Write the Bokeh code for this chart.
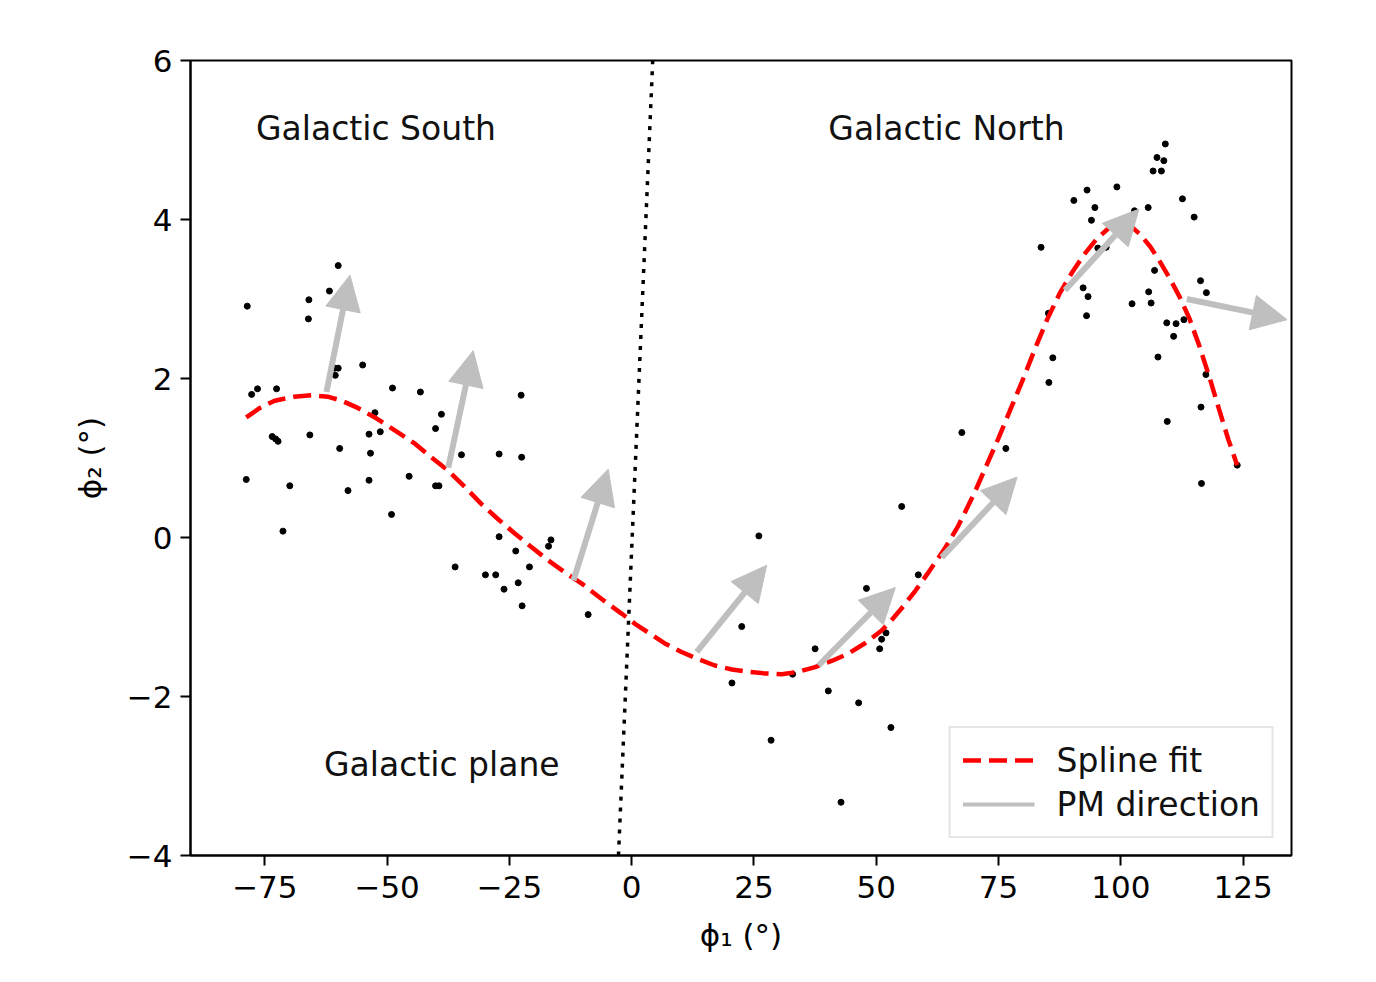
from bokeh.plotting import figure
from bokeh.models import (Arrow, NormalHead, Legend, LegendItem, Range1d,
                          FixedTicker, ColumnDataSource)
from bokeh.embed import file_html
from bokeh.resources import INLINE
from bokeh.core.properties import value

# ---------------- data ----------------
star_phi1 = [-78.6, -60.0, -61.8, -66.0, -66.1, -60.7, -60.0, -60.6, -55.0, -76.5,
             -77.7, -72.6, -48.9, -43.2, -22.6, -52.5, -38.9, -40.1, -73.5, -72.8,
             -72.3, -65.8, -53.7, -51.4, -59.7, -53.4, -34.8, -27.1, -22.5, -78.8,
             -69.9, -53.7, -45.5, -40.1, -39.4, -58.0, -49.1, -71.3, -27.1, -16.5,
             -17.0, -23.7, -36.1, -20.9, -29.9, -27.8, -23.2, -26.1, -22.4, -8.9,
             26.0, 55.2, 58.6, 48.0, 22.5, 37.5, 52.0, 51.1, 50.7, 32.9,
             20.5, 40.2, 46.4, 53.0, 28.5, 42.8,
             67.5, 76.5, 109.1, 107.4, 108.8, 106.6, 108.3, 93.1, 99.2, 90.4,
             94.7, 112.6, 102.8, 105.6, 94.0, 115.0, 83.7, 95.3, 97.0, 106.9,
             116.3, 117.5, 92.3, 93.3, 105.7, 106.2, 102.3, 85.2, 93.0, 109.4,
             111.3, 112.9, 110.8, 86.1, 107.6, 117.4, 85.3, 116.4, 109.5, 123.8,
             116.5]
star_phi2 = [2.91, 3.42, 3.10, 2.99, 2.75, 2.13, 2.13, 2.04, 2.17, 1.87,
             1.80, 1.87, 1.88, 1.83, 1.79, 1.57, 1.55, 1.37, 1.27, 1.24,
             1.21, 1.29, 1.30, 1.33, 1.12, 1.06, 1.04, 1.05, 1.01, 0.73,
             0.65, 0.72, 0.77, 0.65, 0.65, 0.59, 0.29, 0.08, 0.01, -0.03,
             -0.11, -0.17, -0.37, -0.37, -0.47, -0.47, -0.57, -0.65, -0.86, -0.97,
             0.02, 0.39, -0.47, -0.64, -1.12, -1.40, -1.20, -1.28, -1.40, -1.72,
             -1.83, -1.93, -2.08, -2.39, -2.55, -3.33,
             1.32, 1.12, 4.95, 4.78, 4.74, 4.61, 4.61, 4.37, 4.41, 4.24,
             4.15, 4.26, 4.11, 4.15, 3.99, 4.03, 3.65, 3.64, 3.65, 3.36,
             3.23, 3.08, 3.14, 3.03, 3.09, 2.95, 2.94, 2.82, 2.79, 2.70,
             2.69, 2.74, 2.53, 2.26, 2.27, 2.05, 1.95, 1.64, 1.46, 0.91,
             0.68]

spline_phi1 = [-78.8, -76.0, -73.0, -69.0, -65.5, -62.0, -59.3, -56.0, -52.5, -48.5,
               -44.3, -41.0, -37.5, -34.0, -30.7, -27.3, -23.9, -20.5, -17.0, -13.6,
               -10.2, -6.0, -2.0, 1.0, 4.0, 7.0, 10.2, 13.6, 17.0, 20.5,
               23.9, 27.3, 30.7, 34.0, 37.5, 41.0, 44.3, 47.7, 51.1, 53.0,
               55.2, 58.0, 61.0, 64.0, 66.8, 70.0, 72.5, 75.0, 77.5, 80.0,
               82.5, 85.0, 87.5, 90.0, 92.5, 95.0, 97.5, 100.0, 102.0, 104.0,
               106.0, 108.0, 110.0, 112.0, 114.0, 116.0, 118.0, 120.0, 122.0, 123.8]
spline_phi2 = [1.51, 1.63, 1.72, 1.77, 1.79, 1.77, 1.72, 1.63, 1.51, 1.35,
               1.18, 1.01, 0.84, 0.63, 0.42, 0.23, 0.05, -0.12, -0.29, -0.44,
               -0.58, -0.78, -0.96, -1.10, -1.22, -1.34, -1.44, -1.53, -1.61, -1.66,
               -1.69, -1.71, -1.72, -1.69, -1.63, -1.55, -1.46, -1.33, -1.17, -1.05,
               -0.89, -0.67, -0.41, -0.14, 0.15, 0.55, 0.90, 1.25, 1.62, 1.99,
               2.38, 2.75, 3.07, 3.33, 3.56, 3.75, 3.89, 3.95, 3.92, 3.81,
               3.66, 3.47, 3.26, 3.03, 2.76, 2.42, 2.04, 1.63, 1.23, 0.91]

pm_start_phi1 = [-62.4, -37.5, -11.9, 13.3, 38.2, 63.4, 88.6, 113.5]
pm_start_phi2 = [1.83, 0.88, -0.54, -1.44, -1.61, -0.25, 3.11, 3.00]
pm_end_phi1 = [-57.6, -32.4, -4.8, 27.6, 53.9, 78.8, 103.7, 134.0]
pm_end_phi2 = [3.30, 2.35, 0.86, -0.35, -0.63, 0.76, 4.13, 2.74]

plane_phi1 = [-2.7, 4.3]
plane_phi2 = [-4.0, 6.0]

x_ticks = [-75, -50, -25, 0, 25, 50, 75, 100, 125]
y_ticks = [-4, -2, 0, 2, 4, 6]

region_labels = ["Galactic South", "Galactic North", "Galactic plane"]
region_phi1 = [-76.8, 40.2, -62.9]
region_phi2 = [5.14, 5.14, -2.86]

FONT = "DejaVu Sans"
GREY = "#bfbfbf"
NAN = float("nan")

# ---------------- figure ----------------
p = figure(width=1376, height=982,
           x_range=Range1d(-90.2, 134.9), y_range=Range1d(-4, 6),
           output_backend="svg", toolbar_location=None,
           min_border_left=190, min_border_right=85,
           min_border_top=60, min_border_bottom=127,
           background_fill_color="white", border_fill_color="white")
p.grid.visible = False
p.outline_line_color = "black"
p.outline_line_width = 2

def minus(v):
    return ("\u2212" + str(abs(v))) if v < 0 else str(v)

for ax, ticks in ((p.xaxis[0], x_ticks), (p.yaxis[0], y_ticks)):
    ax.ticker = FixedTicker(ticks=ticks)
    ax.major_label_overrides = {t: minus(t) for t in ticks}
    ax.minor_tick_line_color = None
    ax.major_tick_out = 10
    ax.major_tick_in = 0
    ax.major_tick_line_width = 2
    ax.axis_line_width = 2
    ax.axis_line_color = "black"
    ax.major_label_text_font = FONT
    ax.major_label_text_font_size = "31px"
    ax.major_label_text_color = "black"
    ax.axis_label_text_font = FONT
    ax.axis_label_text_font_size = "31px"
    ax.axis_label_text_font_style = "normal"
    ax.axis_label_text_color = "black"

p.xaxis.axis_label = "\u03d5\u2081 (\u00b0)"
p.yaxis.axis_label = "\u03d5\u2082 (\u00b0)"
p.xaxis.major_label_standoff = 10
p.yaxis.major_label_standoff = 8
p.xaxis.axis_label_standoff = 16
p.yaxis.axis_label_standoff = 16

# Galactic plane
p.line(plane_phi1, plane_phi2, line_color="black", line_width=3.5,
       line_dash="4 7")

# PM direction arrows
arrow_src = ColumnDataSource(dict(x0=pm_start_phi1, y0=pm_start_phi2,
                                  x1=pm_end_phi1, y1=pm_end_phi2))
p.add_layout(Arrow(end=NormalHead(size=35, fill_color=GREY, line_color=GREY,
                                  line_width=1),
                   x_start="x0", y_start="y0", x_end="x1", y_end="y1",
                   source=arrow_src, line_color=GREY, line_width=6))

# stars
p.scatter(star_phi1, star_phi2, size=6, color="black")

# spline fit
r_spline = p.line(spline_phi1, spline_phi2, line_color="red", line_width=4.5,
                  line_dash="18 8")
# legend proxy for the PM direction arrows (no visible data)
r_pm = p.line(x=[NAN], y=[NAN], line_color=GREY, line_width=4)

# region labels
p.text(x=region_phi1, y=region_phi2, text=region_labels,
       text_font=value(FONT), text_font_size="33px", text_color="#111111",
       text_align="left", text_baseline="middle")

legend = Legend(items=[LegendItem(label="Spline fit", renderers=[r_spline]),
                       LegendItem(label="PM direction", renderers=[r_pm])],
                location="bottom_right")
legend.label_text_font = FONT
legend.label_text_font_size = "33px"
legend.label_text_color = "#111111"
legend.border_line_color = "#cccccc"
legend.border_line_width = 2
legend.background_fill_color = "white"
legend.background_fill_alpha = 0.9
legend.margin = 17
legend.padding = 12
legend.spacing = 4
legend.glyph_width = 72
legend.glyph_height = 40
legend.label_height = 40
legend.label_standoff = 22
p.add_layout(legend)

open("out.html", "w").write(file_html(p, INLINE))
